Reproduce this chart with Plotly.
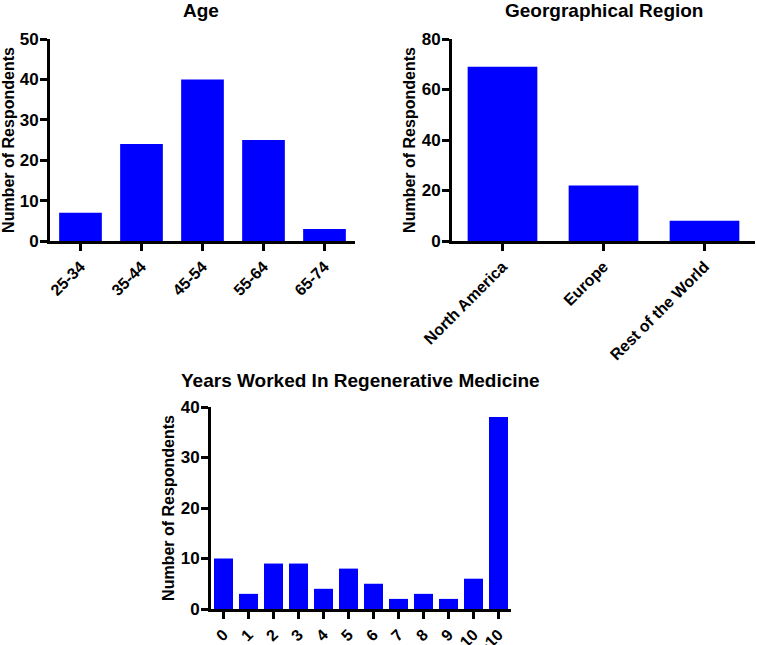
import plotly.graph_objects as go

age_categories = ["25-34", "35-44", "45-54", "55-64", "65-74"]
age_values = [7, 24, 40, 25, 3]

region_categories = ["North America", "Europe", "Rest of the World"]
region_values = [69, 22, 8]

years_categories = ["0", "1", "2", "3", "4", "5", "6", "7", "8", "9", "10", ">10"]
years_values = [10, 3, 9, 9, 4, 8, 5, 2, 3, 2, 6, 38]

W, H = 757, 645
BLUE = "#0000FF"
FONT = "Liberation Sans"

fig = go.Figure()
fig.add_trace(go.Bar(x=age_categories, y=age_values, marker=dict(color=BLUE, line=dict(width=0)),
                     width=0.7, xaxis="x", yaxis="y"))
fig.add_trace(go.Bar(x=region_categories, y=region_values, marker=dict(color=BLUE, line=dict(width=0)),
                     width=0.69, xaxis="x2", yaxis="y2"))
fig.add_trace(go.Bar(x=years_categories, y=years_values, marker=dict(color=BLUE, line=dict(width=0)),
                     width=0.76, xaxis="x3", yaxis="y3"))

def xax(x0, x1, anchor, n):
    return dict(domain=[x0 / W, x1 / W], anchor=anchor, type="category", range=[-0.5, n - 0.5],
                automargin=False,
                showline=True, linecolor="black", linewidth=3, ticks="outside", ticklen=7, tickwidth=3,
                tickcolor="black", tickangle=-45, showgrid=False, zeroline=False,
                tickfont=dict(family=FONT, size=16, color="black", weight="bold"))

def yax(y0, y1, anchor, rng, dt):
    return dict(domain=[(H - y0) / H, (H - y1) / H], anchor=anchor, range=rng, dtick=dt,
                automargin=False,
                showline=True, linecolor="black", linewidth=3, ticks="outside", ticklen=7, tickwidth=3,
                tickcolor="black", showgrid=False, zeroline=False, ticklabelstandoff=-2,
                tickfont=dict(family=FONT, size=17, color="black", weight="bold"),
                title=dict(text="Number of Respondents", standoff=3,
                           font=dict(family=FONT, size=16, color="black", weight="bold")))

def title(text, x, y):
    return dict(text=text, x=x / W, y=1 - y / H, xref="paper", yref="paper", showarrow=False,
                font=dict(family=FONT, size=19, color="black", weight="bold"), xanchor="center", yanchor="middle")

fig.update_layout(
    width=W, height=H, margin=dict(l=0, r=0, t=0, b=0),
    paper_bgcolor="white", plot_bgcolor="white", showlegend=False,
    xaxis=xax(50, 355, "y", 5), yaxis=yax(241, 39, "x", [0, 50], 10),
    xaxis2=xax(452, 755, "y2", 3), yaxis2=yax(241, 39, "x2", [0, 80], 20),
    xaxis3=xax(211, 511, "y3", 12), yaxis3=yax(609, 407, "x3", [0, 40], 10),
    annotations=[title("Age", 201, 11), title("Georgraphical Region", 604, 11),
                 title("Years Worked In Regenerative Medicine", 360, 380)],
    bargap=0.3,
)

fig.write_html("out.html", config={"displayModeBar": False},
               post_script="document.body.style.margin='0';document.body.style.overflow='hidden';")
